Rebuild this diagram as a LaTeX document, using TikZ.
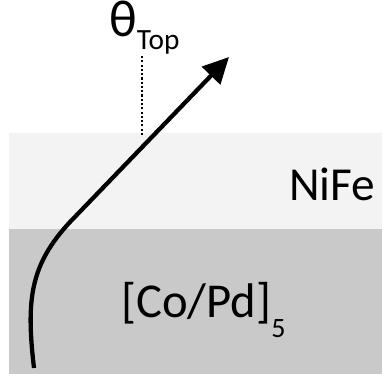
\documentclass[tikz,border=0pt]{standalone}
\usepackage{fontspec}
\setmainfont{Carlito}
\usetikzlibrary{arrows.meta}
\definecolor{layerTop}{HTML}{F3F3F3}
\definecolor{layerBot}{HTML}{C9C9C9}

\begin{document}
\begin{tikzpicture}[
  x=0.75pt, y=-0.75pt,
  lbl/.style={inner sep=0pt, anchor=base west, font=\fontsize{35.5}{40}\selectfont},
  magpath/.style={line width=3.2pt, -{Triangle[length=19.5pt, width=18.75pt]}},
  normal/.style={line width=1.8pt, dash pattern=on 1.6pt off 1.6pt},
]
\useasboundingbox (0,0) rectangle (382,374);

% ---- the two layers ----
\fill[layerTop] (9,133) rectangle (382,229);
\fill[layerBot] (9,229) rectangle (382,374);

% ---- labels ----
\node[lbl] (NIFE) at (289,200) {NiFe};
\node[lbl, font=\fontsize{36.5}{40}\selectfont] (COPD) at (121,317)
  {[Co/Pd]\raisebox{-15pt}{\fontsize{21}{21}\selectfont 5}};
\node[lbl, font=\fontsize{39}{42}\selectfont] (THETA) at (109,37)
  {θ\raisebox{-9.75pt}{\fontsize{22}{24}\selectfont Top}};

% ---- magnetisation profile ----
\coordinate (BOT) at (34,368);
\coordinate (KNEE) at (70,222);
\coordinate (TIP) at (229,57);
\draw[magpath] (BOT) .. controls (26,300) and (30,265) .. (KNEE) -- (TIP);

% ---- surface normal ----
\coordinate (NTOP) at (142,54);
\coordinate (NBOT) at (142,135);
\draw[normal] (NBOT) -- (NTOP);

\end{tikzpicture}
\end{document}
